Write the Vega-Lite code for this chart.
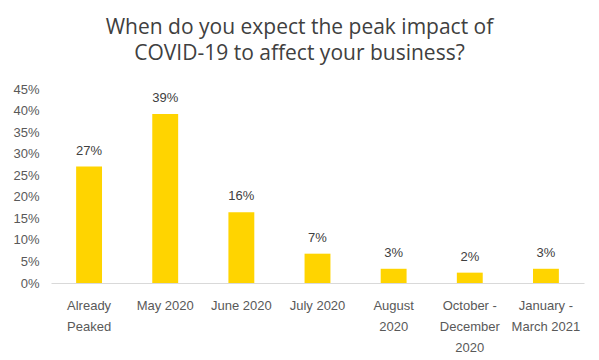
{
  "$schema": "https://vega.github.io/schema/vega-lite/v6.json",
  "width": 533,
  "height": 194,
  "autosize": {"type": "none"},
  "padding": {"left": 51, "top": 89, "right": 15, "bottom": 77},
  "background": "white",
  "config": {"view": {"stroke": null}, "font": "Liberation Sans"},
  "title": {
    "text": ["When do you expect the peak impact of", "COVID-19 to affect your business?"],
    "anchor": "middle",
    "frame": "group",
    "dx": -18,
    "offset": 19,
    "font": "Open Sans",
    "fontSize": 21,
    "fontWeight": "normal",
    "color": "#404040",
    "lineHeight": 26
  },
  "data": {
    "values": [
      {"period": "Already|Peaked", "share": 0.27},
      {"period": "May 2020", "share": 0.392},
      {"period": "June 2020", "share": 0.164},
      {"period": "July 2020", "share": 0.068},
      {"period": "August|2020", "share": 0.033},
      {"period": "October -|December|2020", "share": 0.024},
      {"period": "January -|March 2021", "share": 0.033}
    ]
  },
  "encoding": {
    "x": {
      "field": "period",
      "type": "nominal",
      "sort": null,
      "scale": {"paddingInner": 0.66, "paddingOuter": 0.33},
      "axis": {
        "title": null,
        "labelAngle": 0,
        "labelExpr": "split(datum.label, '|')",
        "labelFontSize": 13,
        "labelColor": "#595959",
        "labelLineHeight": 21,
        "labelPadding": 16,
        "ticks": false,
        "domainColor": "#d9d9d9",
        "domainWidth": 1,
        "labelBaseline": "top"
      }
    },
    "y": {
      "field": "share",
      "type": "quantitative",
      "scale": {"domain": [0, 0.45], "nice": false},
      "axis": {
        "title": null,
        "format": ".0%",
        "values": [0, 0.05, 0.1, 0.15, 0.2, 0.25, 0.3, 0.35, 0.4, 0.45],
        "grid": false,
        "domain": false,
        "ticks": false,
        "labelFontSize": 13,
        "labelColor": "#595959",
        "labelPadding": 12
      }
    }
  },
  "layer": [
    {"mark": {"type": "bar", "color": "#FFD400"}},
    {
      "mark": {"type": "text", "baseline": "bottom", "dy": -9, "fontSize": 13, "color": "#404040"},
      "encoding": {"text": {"field": "share", "type": "quantitative", "format": ".0%"}}
    }
  ]
}
